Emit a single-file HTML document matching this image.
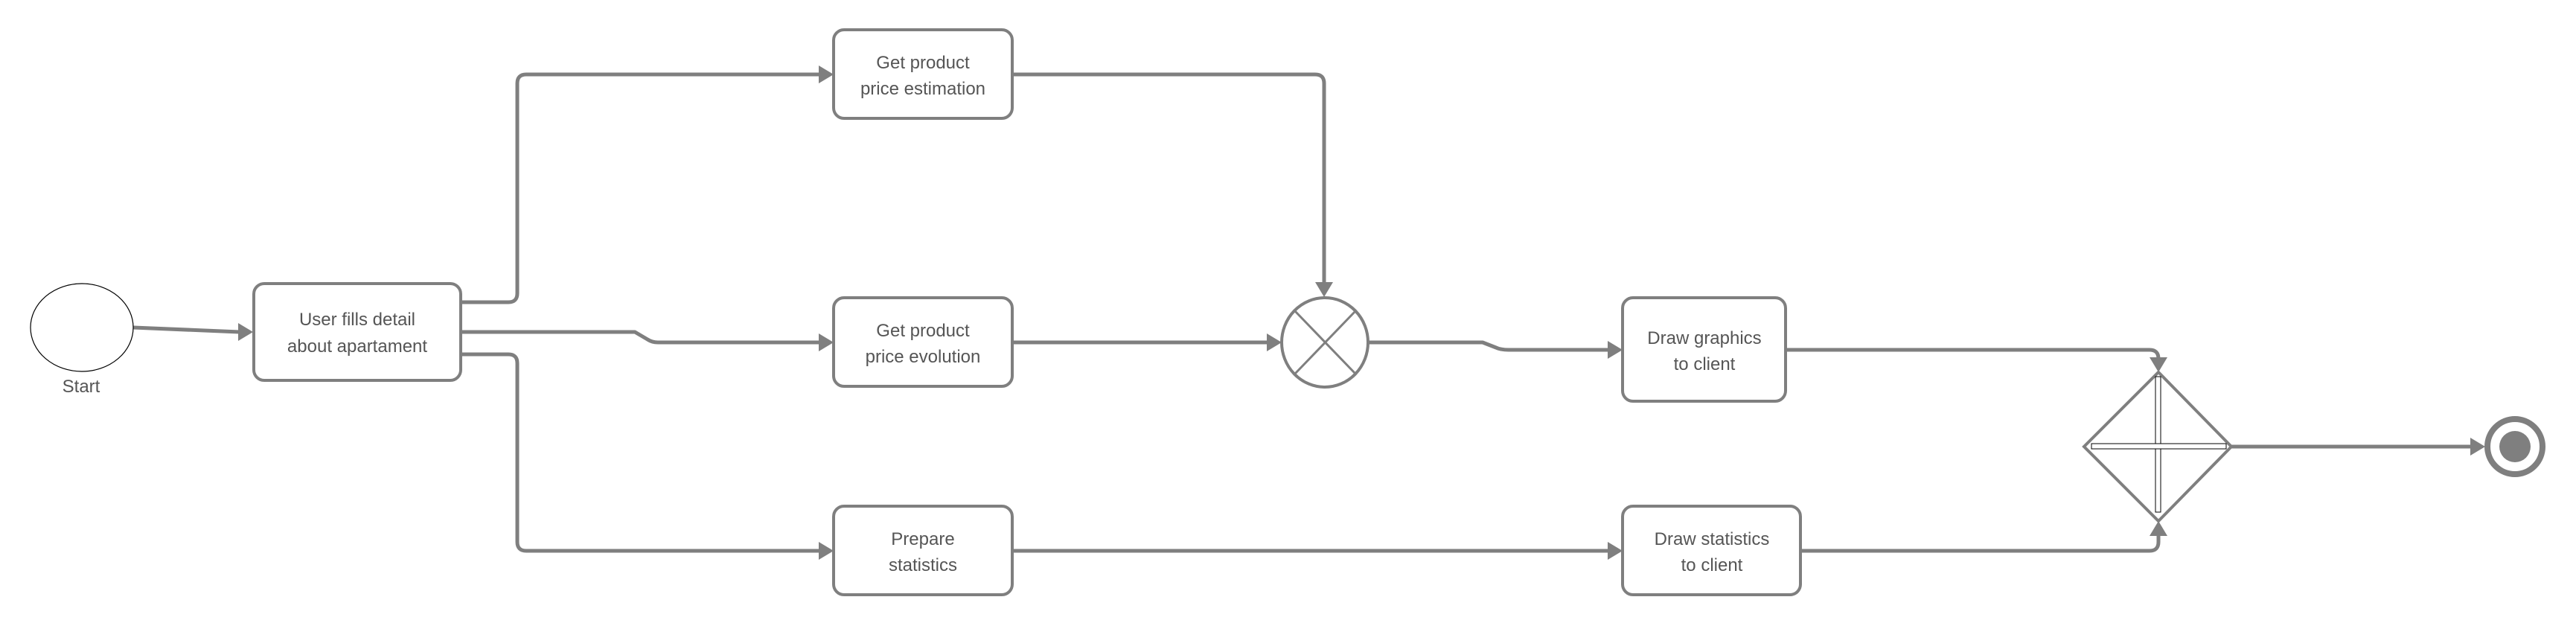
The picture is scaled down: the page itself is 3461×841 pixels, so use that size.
<!DOCTYPE html>
<html><head><meta charset="utf-8"><style>
html,body{margin:0;padding:0;background:#fff;width:3461px;height:841px;overflow:hidden}
text{font-family:"Liberation Sans",sans-serif;font-size:24px;fill:#555;text-anchor:middle}
</style></head><body>
<svg width="3461" height="841" viewBox="0 0 3461 841" xmlns="http://www.w3.org/2000/svg">
<defs>
<marker id="a" markerWidth="8" markerHeight="8" refX="7" refY="4" orient="auto" markerUnits="userSpaceOnUse" viewBox="0 0 8 8">
</marker>
</defs>
<g fill="none" stroke="#7f7f7f" stroke-width="5" stroke-linejoin="round">
<!-- connectors -->
<path d="M179 440 L322 446"/>
<path d="M619 406 H683 Q695 406 695 394 V112 Q695 100 707 100 H1100"/>
<path d="M619 446 H853 L870 456 Q876 460 884 460 H1100"/>
<path d="M619 476 H683 Q695 476 695 488 V728 Q695 740 707 740 H1100"/>
<path d="M1359 100 H1767 Q1779 100 1779 112 V380"/>
<path d="M1359 460 H1703"/>
<path d="M1839 460 H1992 L2010 467 Q2016 470 2027 470 H2162"/>
<path d="M2399 470 H2888 Q2900 470 2900 482 V484"/>
<path d="M1359 740 H2162"/>
<path d="M2419 740 H2888 Q2900 740 2900 728 V716"/>
<path d="M2998 600 H3322"/>
</g>
<g fill="#7f7f7f">
<polygon points="340,446 320,434 320,458"/>
<polygon points="1120,100 1100,88 1100,112"/>
<polygon points="1120,460 1100,448 1100,472"/>
<polygon points="1120,740 1100,728 1100,752"/>
<polygon points="1779,399 1767,379 1791,379"/>
<polygon points="1722,460 1702,448 1702,472"/>
<polygon points="2180,470 2160,458 2160,482"/>
<polygon points="2180,740 2160,728 2160,752"/>
<polygon points="2900,500 2888,480 2912,480"/>
<polygon points="2900,700 2888,720 2912,720"/>
<polygon points="3339,600 3319,588 3319,612"/>
</g>
<!-- start -->
<ellipse cx="110" cy="440" rx="69" ry="59" fill="#fff" stroke="#000" stroke-width="1.2"/>
<text x="109" y="527">Start</text>
<!-- boxes -->
<g fill="#fff" stroke="#7f7f7f" stroke-width="4">
<rect x="341" y="381" width="278" height="130" rx="14"/>
<rect x="1120" y="40" width="240" height="119" rx="14"/>
<rect x="1120" y="400" width="240" height="119" rx="14"/>
<rect x="1120" y="680" width="240" height="119" rx="14"/>
<rect x="2180" y="400" width="219" height="139" rx="14"/>
<rect x="2180" y="680" width="239" height="119" rx="14"/>
</g>
<text x="480" y="437">User fills detail</text><text x="480" y="473">about apartament</text>
<text x="1240" y="92">Get product</text><text x="1240" y="127">price estimation</text>
<text x="1240" y="452">Get product</text><text x="1240" y="487">price evolution</text>
<text x="1240" y="732">Prepare</text><text x="1240" y="767">statistics</text>
<text x="2290" y="462">Draw graphics</text><text x="2290" y="497">to client</text>
<text x="2300" y="732">Draw statistics</text><text x="2300" y="767">to client</text>
<!-- X gateway -->
<ellipse cx="1780" cy="460" rx="58" ry="60" fill="#fff" stroke="#7f7f7f" stroke-width="4"/>
<g stroke="#7f7f7f" stroke-width="3"><line x1="1740" y1="418" x2="1821" y2="502"/><line x1="1821" y1="418" x2="1740" y2="502"/></g>
<!-- diamond -->
<polygon points="2900,500 2998,600 2900,700 2800,600" fill="#fff" stroke="#7f7f7f" stroke-width="4"/>
<rect x="2896" y="506" width="7" height="182" fill="#fff" stroke="#000" stroke-width="1"/>
<rect x="2810" y="596" width="181" height="7" fill="#fff" stroke="#000" stroke-width="1"/>
<!-- end -->
<circle cx="3379" cy="600" r="37" fill="#fff" stroke="#7f7f7f" stroke-width="8"/>
<circle cx="3379" cy="600" r="21" fill="#7f7f7f"/>
</svg>
</body></html>
